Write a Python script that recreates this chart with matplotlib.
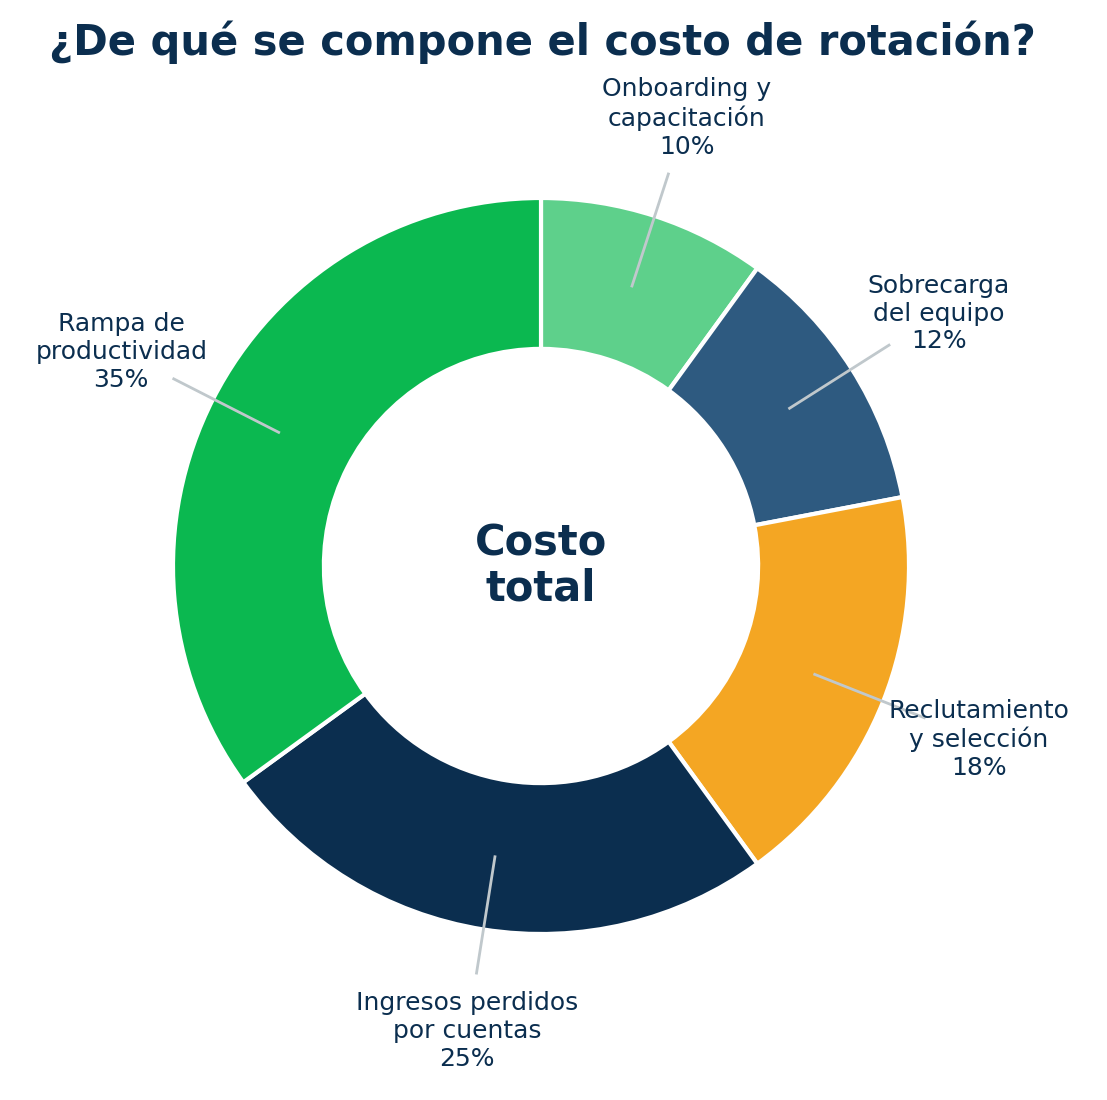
import numpy as np
import matplotlib
matplotlib.use("Agg")
import matplotlib.pyplot as plt

labels = ["Onboarding y\ncapacitación", "Sobrecarga\ndel equipo", "Reclutamiento\ny selección",
          "Ingresos perdidos\npor cuentas", "Rampa de\nproductividad"]
values = [10, 12, 18, 25, 35]
colors = ["#5ED08B", "#2E5A80", "#F4A623", "#0B2E4F", "#0BB850"]

fig = plt.figure(figsize=(11.07, 11), dpi=100)
ax = fig.add_axes([0, 0, 1, 1])
R = 368

wedges, _ = ax.pie(values, colors=colors, startangle=90, counterclock=False,
                   wedgeprops=dict(width=0.41, edgecolor="white", linewidth=3))
navy = "#0B2E4F"
for w, lab, v in zip(wedges, labels, values):
    ang = np.deg2rad((w.theta1 + w.theta2) / 2)
    c, s = np.cos(ang), np.sin(ang)
    ax.plot([0.8 * c, 1.12 * c], [0.8 * s, 1.12 * s], color="#C0C8CC", lw=2)
    ax.text(1.28 * c, 1.28 * s, f"{lab}\n{v}%", ha="center", va="center",
            fontsize=18, color=navy, linespacing=1.2)

ax.text(0, 0, "Costo\ntotal", ha="center", va="center", fontsize=30,
        fontweight="bold", color=navy, linespacing=1.1)
ax.set_aspect("auto")
ax.set_xlim(-541 / R, (1107 - 541) / R)
ax.set_ylim(-534 / R, 566 / R)
ax.axis("off")
fig.text(0.49, 1 - 42 / 1100, "¿De qué se compone el costo de rotación?", ha="center",
         va="center", fontsize=30, fontweight="bold", color=navy)
fig.savefig("out.png", dpi=100)
